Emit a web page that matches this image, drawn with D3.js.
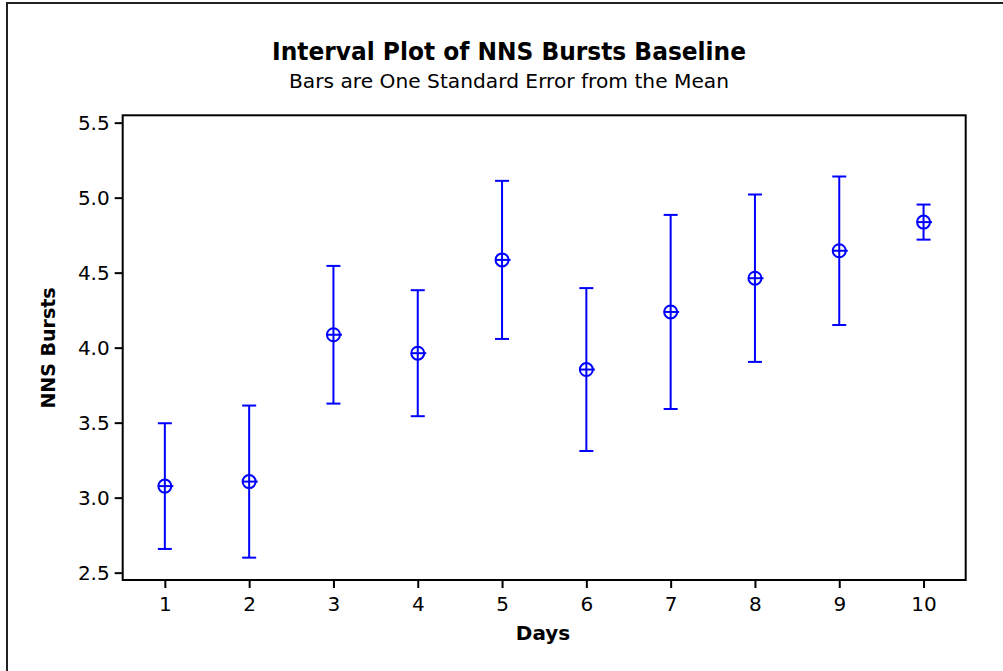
<!DOCTYPE html>
<html>
<head>
<meta charset="utf-8">
<script src="https://cdn.jsdelivr.net/npm/d3@7"></script>
<style>
  html, body { margin: 0; padding: 0; background: #fff; }
  svg { display: block; }
  text { font-family: Tahoma, "DejaVu Sans", sans-serif; fill: #000; }
</style>
</head>
<body>
<svg id="chart" width="1003" height="671"></svg>
<script>
// Days on the x axis
const days = [1, 2, 3, 4, 5, 6, 7, 8, 9, 10];
// Mean NNS bursts per day
const means = [3.077, 3.107, 4.086, 3.963, 4.585, 3.854, 4.238, 4.463, 4.646, 4.837];
// One standard error about each mean
const stdErrors = [0.419, 0.507, 0.459, 0.420, 0.527, 0.543, 0.647, 0.558, 0.495, 0.117];
// Axis tick labels
const yTicks = [2.5, 3.0, 3.5, 4.0, 4.5, 5.0, 5.5];
const xTicks = days;

const svg = d3.select("#chart");
const plotLeft = 122.7, plotRight = 965.7, plotTop = 115.3, plotBottom = 580;
const blue = "#0000ff";
const fontStack = 'Tahoma, "DejaVu Sans", sans-serif';

// Outer frame (right and bottom edges run off the canvas)
svg.append("path")
  .attr("d", "M7,671 V3 H1003")
  .attr("fill", "none")
  .attr("stroke", "#222")
  .attr("stroke-width", 2);

const x = d3.scaleLinear().domain([0.5, 10.5]).range([plotLeft, plotRight]);
const y = d3.scaleLinear().domain([2.451, 5.549]).range([plotBottom, plotTop]);

// Plot box
svg.append("rect")
  .attr("x", plotLeft).attr("y", plotTop)
  .attr("width", plotRight - plotLeft).attr("height", plotBottom - plotTop)
  .attr("fill", "none").attr("stroke", "#000").attr("stroke-width", 2);

// Y axis
const yAxis = svg.append("g")
  .attr("transform", `translate(${plotLeft},0)`)
  .call(d3.axisLeft(y).tickValues(yTicks).tickFormat(d3.format(".1f")).tickSize(8).tickPadding(5));
yAxis.select(".domain").remove();
yAxis.selectAll(".tick line").attr("stroke", "#000").attr("stroke-width", 2);
yAxis.selectAll(".tick text").attr("font-size", 20).attr("fill", "#000")
  .style("font-family", fontStack);

// X axis
const xAxis = svg.append("g")
  .attr("transform", `translate(0,${plotBottom})`)
  .call(d3.axisBottom(x).tickValues(xTicks).tickFormat(d3.format("d")).tickSize(8).tickPadding(9));
xAxis.select(".domain").remove();
xAxis.selectAll(".tick line").attr("stroke", "#000").attr("stroke-width", 2);
xAxis.selectAll(".tick text").attr("font-size", 20).attr("fill", "#000")
  .style("font-family", fontStack);

// Titles
svg.append("text")
  .attr("x", 509).attr("y", 60)
  .attr("text-anchor", "middle")
  .attr("font-size", 24).attr("font-weight", "bold")
  .attr("textLength", 474).attr("lengthAdjust", "spacingAndGlyphs")
  .text("Interval Plot of NNS Bursts Baseline");
svg.append("text")
  .attr("x", 509).attr("y", 88)
  .attr("text-anchor", "middle")
  .attr("font-size", 20)
  .attr("textLength", 440).attr("lengthAdjust", "spacingAndGlyphs")
  .text("Bars are One Standard Error from the Mean");

// Axis titles
svg.append("text")
  .attr("x", 543).attr("y", 640)
  .attr("text-anchor", "middle")
  .attr("font-size", 20).attr("font-weight", "bold")
  .text("Days");
svg.append("text")
  .attr("transform", "translate(55,348) rotate(-90)")
  .attr("text-anchor", "middle")
  .attr("font-size", 19).attr("font-weight", "bold")
  .text("NNS Bursts");

// Interval bars with mean markers
const data = days.map((d, i) => ({ day: d, mean: means[i], se: stdErrors[i] }));
const capHalf = 7, r = 6.5;
const g = svg.append("g").attr("stroke", blue).attr("stroke-width", 2).attr("fill", "none");
const item = g.selectAll("g.interval").data(data).join("g").attr("class", "interval");

item.append("line")
  .attr("x1", d => x(d.day)).attr("x2", d => x(d.day))
  .attr("y1", d => y(d.mean + d.se)).attr("y2", d => y(d.mean - d.se));
item.append("line")
  .attr("x1", d => x(d.day) - capHalf).attr("x2", d => x(d.day) + capHalf)
  .attr("y1", d => y(d.mean + d.se)).attr("y2", d => y(d.mean + d.se));
item.append("line")
  .attr("x1", d => x(d.day) - capHalf).attr("x2", d => x(d.day) + capHalf)
  .attr("y1", d => y(d.mean - d.se)).attr("y2", d => y(d.mean - d.se));
item.append("circle")
  .attr("cx", d => x(d.day)).attr("cy", d => y(d.mean)).attr("r", r)
  .attr("fill", "#fff");
item.append("line")
  .attr("x1", d => x(d.day) - r).attr("x2", d => x(d.day) + r + 2)
  .attr("y1", d => y(d.mean)).attr("y2", d => y(d.mean));
item.append("line")
  .attr("x1", d => x(d.day)).attr("x2", d => x(d.day))
  .attr("y1", d => y(d.mean) - r).attr("y2", d => y(d.mean) + r);
</script>
</body>
</html>
